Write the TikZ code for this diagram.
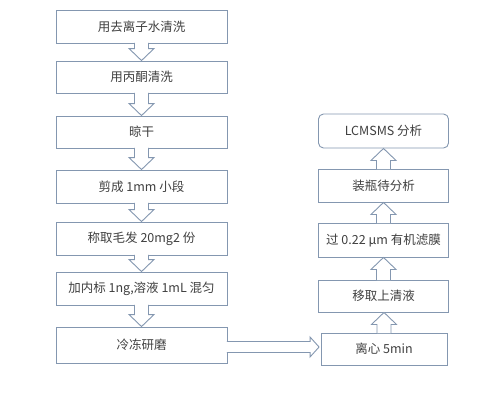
\documentclass[tikz,border=0pt]{standalone}
\usepackage{fontspec}
\setmainfont{Noto Sans CJK SC}
\usepackage{xcolor}
\usepackage{tikz}
\usetikzlibrary{calc}

\definecolor{boxline}{HTML}{8497B0}
\definecolor{boxtext}{HTML}{404040}

\tikzset{
  stepbox/.style={draw=boxline, line width=0.9pt, fill=white, text=boxtext,
    minimum width=171pt, minimum height=33pt, inner sep=0pt,
    font=\fontsize{12.5}{15}\selectfont},
  rightbox/.style={stepbox, minimum width=130pt},
  hollow/.style={draw=boxline, line width=0.9pt, fill=white, line join=miter},
}

% hollow block arrows between two boxes
\newcommand{\downflow}[2]{%
  \draw[hollow] let \p1=(#1.south), \p2=(#2.north) in
    (\x1-7pt,\y1+0.5pt) -- (\x1-7pt,\y2+12pt) -- (\x1-12.5pt,\y2+12pt) -- (\x1,\y2)
    -- (\x1+12.5pt,\y2+12pt) -- (\x1+7pt,\y2+12pt) -- (\x1+7pt,\y1+0.5pt);}
\newcommand{\upflow}[2]{%
  \draw[hollow] let \p1=(#1.north), \p2=(#2.south) in
    (\x1-7pt,\y1-0.5pt) -- (\x1-7pt,\y2-12pt) -- (\x1-12.5pt,\y2-12pt) -- (\x1,\y2)
    -- (\x1+12.5pt,\y2-12pt) -- (\x1+7pt,\y2-12pt) -- (\x1+7pt,\y1-0.5pt);}
\newcommand{\rightflow}[2]{%
  \draw[hollow] let \p1=(#1.east), \p2=(#2.west), \p3=($(\p1)!0.5!(\p2)$) in
    (\x1-0.5pt,\y3+5.5pt) -- (\x2-10.5pt,\y3+5.5pt) -- (\x2-10.5pt,\y3+10pt) -- (\x2-1.5pt,\y3)
    -- (\x2-10.5pt,\y3-10pt) -- (\x2-10.5pt,\y3-5.5pt) -- (\x1-0.5pt,\y3-5.5pt);}

\begin{document}
\begin{tikzpicture}[x=1pt, y=-1pt]
  \useasboundingbox (0,0) rectangle (500,400);

  % left column
  \node[stepbox]                        (wash)    at (141.5,26.5)  {用去离子水清洗};
  \node[stepbox, minimum height=32pt]   (acetone) at (141.5,77)    {用丙酮清洗};
  \node[stepbox, minimum height=32pt]   (dry)     at (141.5,132)   {晾干};
  \node[stepbox]                        (cut)     at (141.5,186.5) {剪成 1mm 小段};
  \node[stepbox]                        (weigh)   at (141.5,238.5) {称取毛发 20mg2 份};
  \node[stepbox]                        (spike)   at (141.5,288.5) {加内标 1ng,溶液 1mL 混匀};
  \node[stepbox, minimum height=36pt]   (grind)   at (141.5,345)   {冷冻研磨};

  % right column
  \node[rightbox, rounded corners=5pt, minimum height=34pt] (lcms)   at (383.5,131)   {LCMSMS 分析};
  \node[rightbox]                                           (vial)   at (383.5,185.5) {装瓶待分析};
  \node[rightbox, minimum height=34pt]                      (filter) at (383.5,240)   {过 0.22 μm 有机滤膜};
  \node[rightbox, minimum height=32pt]                      (super)  at (383.5,296)   {移取上清液};
  \node[rightbox, minimum width=126pt, minimum height=32pt] (spin)   at (384,349)     {离心 5min};

  \downflow{wash}{acetone}
  \downflow{acetone}{dry}
  \downflow{dry}{cut}
  \downflow{cut}{weigh}
  \downflow{weigh}{spike}
  \downflow{spike}{grind}
  \rightflow{grind}{spin}
  \upflow{spin}{super}
  \upflow{super}{filter}
  \upflow{filter}{vial}
  \upflow{vial}{lcms}
\end{tikzpicture}
\end{document}
